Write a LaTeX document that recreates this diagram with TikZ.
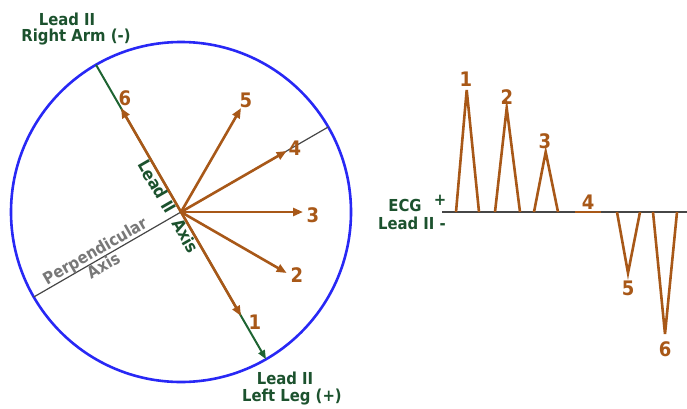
\documentclass[tikz,border=0pt]{standalone}
\usepackage{fontspec}
\setmainfont{DejaVu Sans Condensed}
\usetikzlibrary{arrows.meta,calc}
\definecolor{brn}{RGB}{168,88,24}
\definecolor{grnline}{RGB}{30,100,50}
\definecolor{gtxt}{RGB}{28,82,46}
\definecolor{blu}{RGB}{40,40,245}
\definecolor{axg}{RGB}{70,70,70}
\definecolor{ptxt}{RGB}{120,120,120}
\begin{document}
\begin{tikzpicture}[x=1pt,y=1pt,
  lbl/.style={font=\bfseries\fontsize{16.5}{18}\selectfont,text=gtxt,inner sep=0pt},
  num/.style={font=\bfseries\fontsize{20}{21}\selectfont,text=brn,inner sep=0pt},
  vec/.style={draw=brn,line width=2.6pt,-{Triangle[length=10pt,width=8pt]}},
  wave/.style={draw=brn,line width=2.6pt,line join=miter},
]
\useasboundingbox (0,0) rectangle (687,408);
\coordinate (O) at (181,196);
% circle
\draw[blu,line width=2.6pt] (O) circle (170);
% axes
\coordinate (RA) at ($(O)+(120:170)$);
\coordinate (LL) at ($(O)+(-60:170)$);
\coordinate (P1) at ($(O)+(210:170)$);
\coordinate (P2) at ($(O)+(30:170)$);
\draw[axg,line width=1.2pt] (P1) -- (P2);
\draw[grnline,line width=2pt,-{Triangle[length=9pt,width=7pt]}] (RA) -- (LL);
% vectors
\coordinate (t6) at ($(O)+(120:120)$);
\coordinate (t5) at ($(O)+(60:120)$);
\coordinate (t4) at ($(O)+(30:122)$);
\coordinate (t3) at ($(O)+(0:122)$);
\coordinate (t2) at ($(O)+(-30:122)$);
\coordinate (t1) at ($(O)+(-60:120)$);
\foreach \t in {t1,t2,t3,t4,t5,t6}{\draw[vec] (O) -- (\t);}
\node[num] (n6) at (125,310) {6};
\node[num] (n5) at (246,308) {5};
\node[num] (n4) at (295,260) {4};
\node[num] (n3) at (313,193) {3};
\node[num] (n2) at (297,133) {2};
\node[num] (n1) at (255,86) {1};
% axis labels
\node[lbl,rotate=-60,font=\bfseries\fontsize{17}{18}\selectfont] (lax) at (168.6,201.5) {Lead II\hspace{10pt}Axis};
\node[lbl,rotate=30,text=ptxt,align=center,font=\bfseries\fontsize{16.5}{17}\selectfont] (pax) at (99,150) {Perpendicular\\Axis};
% lead labels
\node[lbl] (ra1) at (67,389) {Lead II};
\node[lbl] (ra2) at (76,371) {Right Arm (-)};
\node[lbl] (ll1) at (285,30) {Lead II};
\node[lbl] (ll2) at (292,11) {Left Leg (+)};
% ECG
\coordinate (b0) at (442,196);
\coordinate (b1) at (687,196);
\draw[axg,line width=1.3pt] (b0) -- (b1);
\draw[wave] (456,196) -- (466.7,318) -- (479,196);
\draw[wave] (495,196) -- (506.7,300) -- (520,196);
\draw[wave] (534,196) -- (545.7,256) -- (558,196);
\draw[wave] (575,196) -- (601,196);
\draw[wave] (617,196) -- (628,135) -- (640,196);
\draw[wave] (653,196) -- (665,74) -- (677,196);
\node[num] (e1) at (466,329) {1};
\node[num] (e2) at (507,311) {2};
\node[num] (e3) at (545,267) {3};
\node[num] (e4) at (588,206) {4};
\node[num] (e5) at (628,120) {5};
\node[num] (e6) at (665,59) {6};
\node[lbl] (ecg) at (405,203) {ECG};
\node[lbl] (plus) at (440,208) {+};
\node[lbl,anchor=east] (lii) at (446,185) {Lead II -};
\end{tikzpicture}
\end{document}
